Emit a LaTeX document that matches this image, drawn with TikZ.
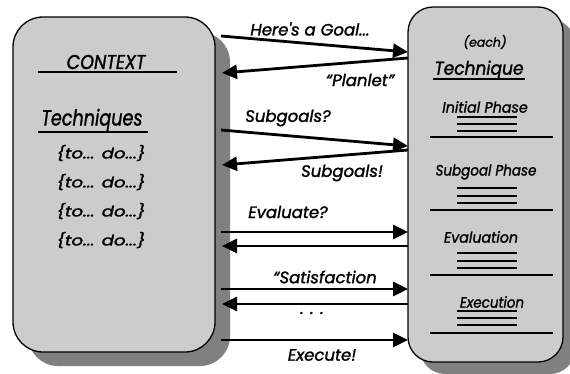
\documentclass[tikz,border=0pt]{standalone}
\usepackage{fontspec}
\setmainfont{Poppins}
\newfontfamily\pfont{Poppins}[ItalicFeatures={FakeBold=1.5}]
\usetikzlibrary{arrows.meta}
\definecolor{boxfill}{HTML}{CCCCCC}
\definecolor{shadowgray}{HTML}{808080}
\tikzset{
  panel/.style={draw=black, line width=1.3pt, fill=boxfill},
  panelshadow/.style={fill=shadowgray, draw=none},
  msg/.style={line width=2.8pt, -{Triangle[length=15pt,width=14pt]}},
  lbl/.style={font=\pfont\itshape\fontsize{16.5}{18}\selectfont, inner sep=0pt},
  phase/.style={font=\pfont\itshape\fontsize{15}{17}\selectfont, inner sep=0pt},
  todo/.style={font=\pfont\itshape\fontsize{14.5}{16}\selectfont, inner sep=0pt},
  rule/.style={line width=1.2pt},
  thin/.style={line width=1.1pt}
}
\newcommand{\sq}[2][0.82]{\scalebox{#1}[1]{#2}}
\begin{document}
\begin{tikzpicture}[x=1pt,y=-1pt]
\useasboundingbox (0,0) rectangle (570,373);
% shadows
\fill[panelshadow, rounded corners=30pt] (28,32) rectangle (230,366);
\fill[panelshadow, rounded corners=25pt] (420,19) rectangle (575,374);
% panels
\draw[panel, rounded corners=30pt] (13,17) rectangle (215,352);
\draw[panel, rounded corners=25pt] (408,7) rectangle (563,362);

% left box content
\node[lbl, font=\pfont\itshape\fontsize{20}{22}\selectfont] (ctx) at (106,62) {\sq[0.88]{CONTEXT}};
\draw[rule] (38,72) -- (177,72);
\node[lbl, font=\pfont\itshape\fontsize{22}{24}\selectfont] (tech) at (92,120) {\sq[0.8]{Techniques}};
\draw[rule] (38,132) -- (148,132);
\node[todo] (td1) at (101,153) {\sq[1.25]{\{to... do...\}}};
\node[todo] (td2) at (101,182) {\sq[1.25]{\{to... do...\}}};
\node[todo] (td3) at (101,211) {\sq[1.25]{\{to... do...\}}};
\node[todo] (td4) at (101,240) {\sq[1.25]{\{to... do...\}}};

% right box content
\node[phase, font=\pfont\itshape\fontsize{12.5}{14}\selectfont] (each) at (485,42) {(each)};
\node[lbl, font=\pfont\itshape\fontsize{18.5}{20}\selectfont] (techR) at (479,70) {\sq[0.92]{Technique}};
\draw[rule] (433,79) -- (525,79);
\node[phase] (ph1) at (485,107) {\sq[0.95]{Initial Phase}};
\node[phase] (ph2) at (486,172) {\sq[0.9]{Subgoal Phase}};
\node[phase] (ph3) at (481,237) {\sq[0.95]{Evaluation}};
\node[phase] (ph4) at (492,302) {\sq[0.9]{Execution}};
\foreach \y in {117,124,131, 188,196,203, 253,261,268, 311,318,325}
  \draw[thin] (457,\y) -- (517,\y);
\foreach \y in {137,210,275,333}
  \draw[rule] (430,\y) -- (553,\y);

% arrow endpoints
\coordinate (a1s) at (221,36);  \coordinate (a1e) at (408,52);
\coordinate (a2s) at (408,58);  \coordinate (a2e) at (222,73);
\coordinate (a3s) at (221,130); \coordinate (a3e) at (408,146);
\coordinate (a4s) at (408,150); \coordinate (a4e) at (222,165);
\coordinate (a5s) at (221,232); \coordinate (a5e) at (408,232);
\coordinate (a6s) at (408,246); \coordinate (a6e) at (222,246);
\coordinate (a7s) at (221,289); \coordinate (a7e) at (408,289);
\coordinate (a8s) at (408,304); \coordinate (a8e) at (222,304);
\coordinate (a9s) at (221,340); \coordinate (a9e) at (408,340);
\foreach \i in {1,...,9} \draw[msg] (a\i s) -- (a\i e);

% labels
\node[lbl] (l1) at (310,29) {Here's a Goal...};
\node[lbl] (l2) at (360,80) {“Planlet”};
\node[lbl] (l3) at (288,118) {Subgoals?};
\node[lbl] (l4) at (342,173) {Subgoals!};
\node[lbl] (l5) at (288,212) {Evaluate?};
\node[lbl] (l6) at (325,277) {“Satisfaction};
\node[lbl] (l7) at (312,313) {. . .};
\node[lbl] (l8) at (322,355) {Execute!};
\end{tikzpicture}
\end{document}
